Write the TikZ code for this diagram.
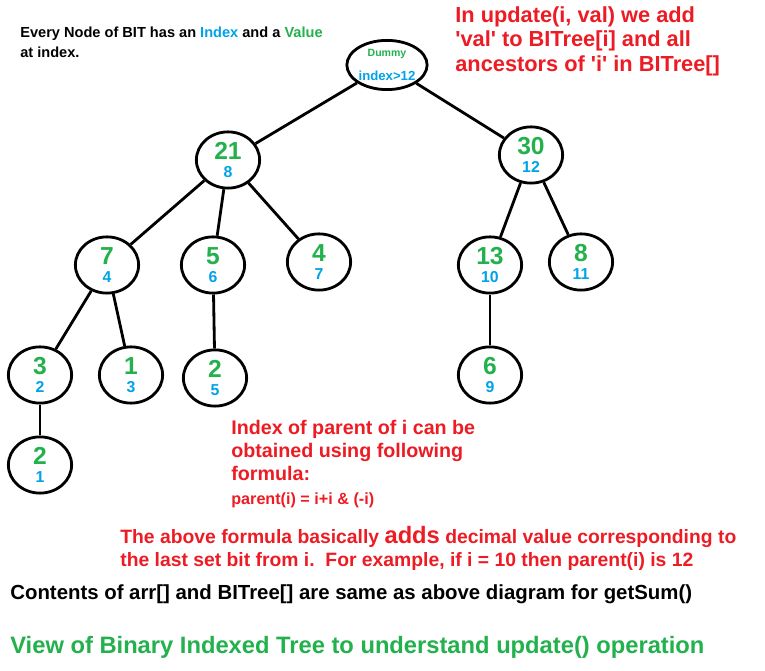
\documentclass[tikz,border=0pt]{standalone}
\usepackage{fontspec}
\setmainfont{Liberation Sans}
\usetikzlibrary{shapes.geometric}
\definecolor{valgreen}{RGB}{34,177,76}
\definecolor{idxblue}{RGB}{0,162,232}
\definecolor{notered}{RGB}{237,28,36}
\begin{document}
\begin{tikzpicture}[x=0.02cm,y=-0.02cm,font=\bfseries]
	\tikzstyle{bitnode} = [ellipse, draw=black, line width=1.6pt, minimum width=36pt, minimum height=32pt, inner sep=0pt, align=center]
	\tikzstyle{edge} = [line width=1.6pt]
	\tikzstyle{note} = [anchor=north west, align=left, text=notered, inner sep=0pt]
	\newcommand{\bitval}[2]{{\fontsize{14}{14}\selectfont\color{valgreen}#1}\\[-2pt]{\fontsize{9}{9}\selectfont\color{idxblue}#2}}
	\newcommand{\q}{\textquotesingle}
	\fill[white] (0,0) rectangle (765,671);
	% tree nodes
	\node (dummy) [bitnode, minimum width=34pt, minimum height=28pt] at (387,65) {{\fontsize{6}{7}\selectfont\color{valgreen}Dummy}\\[2pt]{\fontsize{7.5}{8}\selectfont\color{idxblue}index>12}};
	\node (n8) [bitnode] at (228,160) {\bitval{21}{8}};
	\node (n12) [bitnode] at (531,155) {\bitval{30}{12}};
	\node (n4) [bitnode] at (107,265) {\bitval{7}{4}};
	\node (n6) [bitnode] at (213,265) {\bitval{5}{6}};
	\node (n7) [bitnode] at (319,262) {\bitval{4}{7}};
	\node (n10) [bitnode] at (490,265) {\bitval{13}{10}};
	\node (n11) [bitnode] at (581,262) {\bitval{8}{11}};
	\node (n2) [bitnode] at (40,375) {\bitval{3}{2}};
	\node (n3) [bitnode] at (131,375) {\bitval{1}{3}};
	\node (n5) [bitnode] at (215,378) {\bitval{2}{5}};
	\node (n9) [bitnode] at (490,375) {\bitval{6}{9}};
	\node (n1) [bitnode] at (40,465) {\bitval{2}{1}};
	% edges
	\draw [edge] (dummy) -- (n8);
	\draw [edge] (dummy) -- (n12);
	\draw [edge] (n8) -- (n4);
	\draw [edge] (n8) -- (n6);
	\draw [edge] (n8) -- (n7);
	\draw [edge] (n12) -- (n10);
	\draw [edge] (n12) -- (n11);
	\draw [edge] (n4) -- (n2);
	\draw [edge] (n4) -- (n3);
	\draw [edge] (n6) -- (n5);
	\draw [edge] (n10) -- (n9);
	\draw [edge] (n2) -- (n1);
	% texts
	\node (legend) [anchor=north west, align=left, inner sep=0pt, font=\bfseries\fontsize{8.3}{11}\selectfont] at (20,27) {Every Node of BIT has an {\color{idxblue}Index} and a {\color{valgreen}Value}\\at index.};
	\node (update) [note, font=\bfseries\fontsize{12.4}{14}\selectfont] at (455,6) {In update(i, val) we add\\\q val\q{} to BITree[i] and all\\ancestors of \q i\q{} in BITree[]};
	\node (parent) [note, font=\bfseries\fontsize{11.2}{13}\selectfont] at (231,420) {Index of parent of i can be\\obtained using following\\formula:};
	\node (formula) [note, font=\bfseries\fontsize{9.2}{10}\selectfont] at (231,492) {parent(i) = i+i \& (-i)};
	\node (explain) [note, font=\bfseries\fontsize{11}{13}\selectfont] at (120,526) {The above formula basically {\fontsize{13.5}{13}\selectfont adds} decimal value corresponding to\\the last set bit from i.\ \ For example, if i = 10\ then parent(i) is 12};
	\node (contents) [anchor=north west, inner sep=0pt, font=\bfseries\fontsize{11.6}{12}\selectfont] at (10,584) {Contents of arr[] and BITree[] are same as above diagram for getSum()};
	\node (caption) [anchor=north west, inner sep=0pt, text=valgreen, font=\bfseries\fontsize{13.5}{13}\selectfont] at (10,636) {View of Binary Indexed Tree to understand update() operation};
\end{tikzpicture}
\end{document}
